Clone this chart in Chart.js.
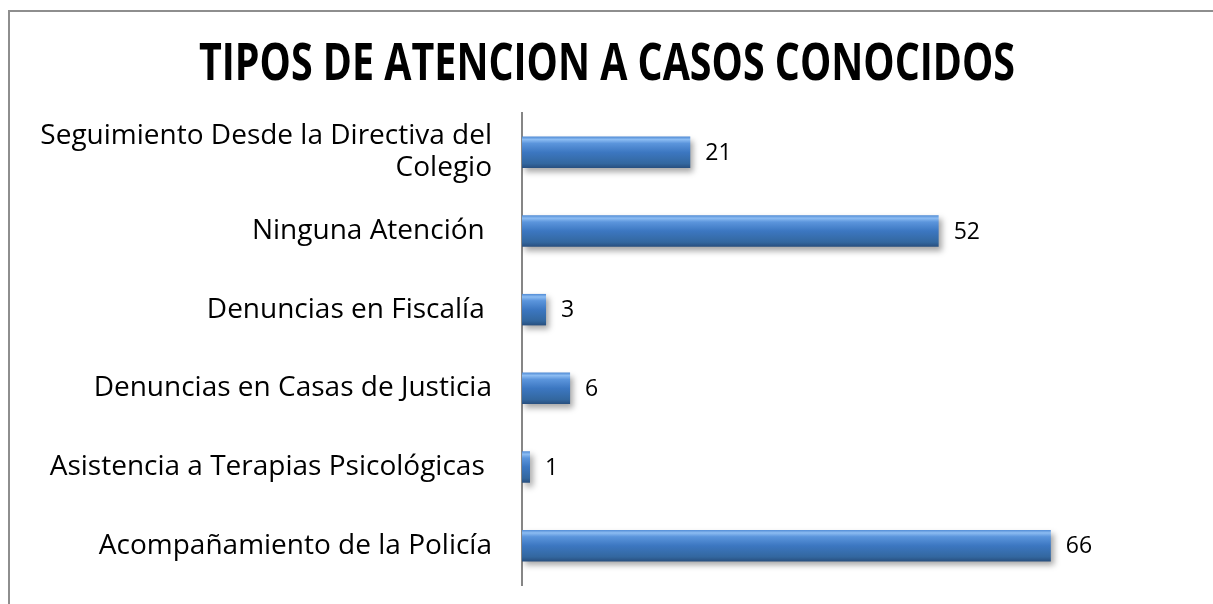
<!DOCTYPE html>
<html>
<head>
<meta charset="utf-8">
<script src="https://cdn.jsdelivr.net/npm/chart.js@4/dist/chart.umd.min.js"></script>
<style>
	html, body { margin: 0; padding: 0; background: #fff; overflow: hidden; }
	#frame {
		position: absolute; left: 8px; top: 10px; width: 1400px; height: 800px;
		border-top: 2px solid #8e8e8e; border-left: 2px solid #8e8e8e;
	}
	#wrapper { position: absolute; left: 0; top: 0; width: 1213px; height: 604px; }
</style>
</head>
<body>
<div id="frame"></div>
<div id="wrapper"><canvas id="bar-atencion" width="1213" height="604"></canvas></div>
<script>
const chartTitle = "TIPOS DE ATENCION A CASOS CONOCIDOS";
const categories = [
	["Seguimiento Desde la Directiva del", "Colegio"],
	"Ninguna Atención ",
	"Denuncias en Fiscalía ",
	"Denuncias en Casas de Justicia",
	"Asistencia a Terapias Psicológicas ",
	"Acompañamiento de la Policía",
];
const casos = [21, 52, 3, 6, 1, 66];

const fontFamily = "'Open Sans', 'Noto Sans', sans-serif";

// size the label font so the longest line spans about as wide as in the picture
function fitSize(text, family, weight, targetWidth) {
	const c = document.createElement("canvas").getContext("2d");
	c.font = weight + " 40px " + family;
	return Math.round((40 * targetWidth) / c.measureText(text).width * 10) / 10;
}
const labelSize = Math.min(30, fitSize(categories[0][0], fontFamily, "normal", 452));

// title is a narrow bold face in the original, so draw it a bit condensed
const titlePlugin = {
	id: "condensedTitle",
	afterDraw(chart) {
		const ctx = chart.ctx;
		ctx.save();
		ctx.font = "bold 52px " + fontFamily;
		ctx.fillStyle = "#000";
		ctx.textAlign = "center";
		ctx.textBaseline = "alphabetic";
		const sx = Math.min(1, 816 / ctx.measureText(chartTitle).width);
		ctx.translate(607, 80);
		ctx.scale(sx, 1);
		ctx.fillText(chartTitle, 0, 0);
		ctx.restore();
	},
};

// vertical gradient per bar, like the bevelled Excel bars
function barGradient(context) {
	const chart = context.chart;
	const yScale = chart.scales.y;
	if (!chart.chartArea || !yScale || context.dataIndex === undefined) return "#3b78c4";
	const yc = yScale.getPixelForValue(context.dataIndex);
	const h = 16;
	const g = chart.ctx.createLinearGradient(0, yc - h, 0, yc + h);
	g.addColorStop(0, "#4a86d2");
	g.addColorStop(0.1, "#8cbcf2");
	g.addColorStop(0.22, "#5b95dc");
	g.addColorStop(0.5, "#3c77c1");
	g.addColorStop(0.85, "#33679f");
	g.addColorStop(1, "#274d7c");
	return g;
}

const shadowPlugin = {
	id: "barShadow",
	beforeDatasetsDraw(chart) {
		const ctx = chart.ctx;
		ctx.save();
		ctx.shadowColor = "rgba(0,0,0,0.35)";
		ctx.shadowBlur = 6;
		ctx.shadowOffsetX = 3;
		ctx.shadowOffsetY = 4;
	},
	afterDatasetsDraw(chart) {
		chart.ctx.restore();
	},
};

const valueLabels = {
	id: "valueLabels",
	afterDraw(chart) {
		const ctx = chart.ctx;
		const meta = chart.getDatasetMeta(0);
		ctx.save();
		ctx.font = "23px " + fontFamily;
		ctx.fillStyle = "#000";
		ctx.textAlign = "left";
		ctx.textBaseline = "middle";
		meta.data.forEach((bar, i) => {
			ctx.fillText(String(casos[i]), bar.x + 15, bar.y + 1);
		});
		ctx.restore();
	},
};

const ctx = document.getElementById("bar-atencion").getContext("2d");

new Chart(ctx, {
	type: "bar",
	data: {
		labels: categories,
		datasets: [
			{
				data: casos,
				backgroundColor: barGradient,
				borderWidth: 0,
				barPercentage: 0.4,
				categoryPercentage: 1,
			},
		],
	},
	options: {
		indexAxis: "y",
		responsive: false,
		animation: false,
		layout: {
			padding: { top: 113, bottom: 19, right: 50, left: 0 },
		},
		scales: {
			x: {
				display: false,
				min: 0,
				max: 80,
			},
			y: {
				afterFit(scale) {
					scale.width = 522;
					scale.paddingTop = 0;
					scale.paddingBottom = 0;
				},
				grid: { display: false, drawTicks: false },
				border: { display: true, color: "#868686", width: 2 },
				ticks: {
					color: "#000",
					padding: 30,
					font: { family: fontFamily, size: labelSize, lineHeight: 1.15 },
				},
			},
		},
		plugins: {
			legend: { display: false },
			tooltip: { enabled: false },
			title: { display: false },
		},
	},
	plugins: [shadowPlugin, valueLabels, titlePlugin],
});
</script>
</body>
</html>
